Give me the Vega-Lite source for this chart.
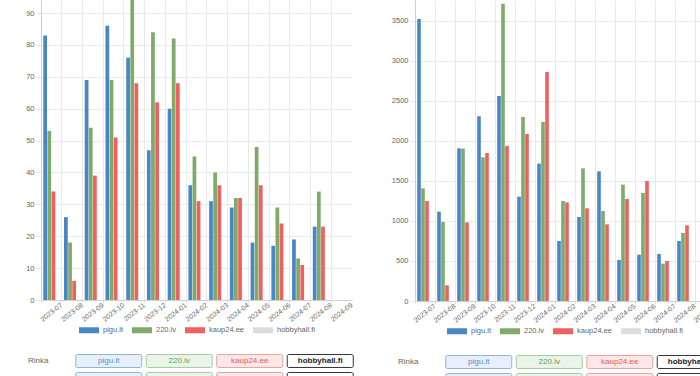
{
  "$schema": "https://vega.github.io/schema/vega-lite/v6.json",
  "background": "white",
  "padding": {"left": 3, "top": 0, "right": 0, "bottom": 0},
  "datasets": {
    "left": [
      {"month": "2023-07", "site": "pigu.lt", "value": 83}, {"month": "2023-07", "site": "220.lv", "value": 53}, {"month": "2023-07", "site": "kaup24.ee", "value": 34},
      {"month": "2023-08", "site": "pigu.lt", "value": 26}, {"month": "2023-08", "site": "220.lv", "value": 18}, {"month": "2023-08", "site": "kaup24.ee", "value": 6},
      {"month": "2023-09", "site": "pigu.lt", "value": 69}, {"month": "2023-09", "site": "220.lv", "value": 54}, {"month": "2023-09", "site": "kaup24.ee", "value": 39},
      {"month": "2023-10", "site": "pigu.lt", "value": 86}, {"month": "2023-10", "site": "220.lv", "value": 69}, {"month": "2023-10", "site": "kaup24.ee", "value": 51},
      {"month": "2023-11", "site": "pigu.lt", "value": 76}, {"month": "2023-11", "site": "220.lv", "value": 96}, {"month": "2023-11", "site": "kaup24.ee", "value": 68},
      {"month": "2023-12", "site": "pigu.lt", "value": 47}, {"month": "2023-12", "site": "220.lv", "value": 84}, {"month": "2023-12", "site": "kaup24.ee", "value": 62},
      {"month": "2024-01", "site": "pigu.lt", "value": 60}, {"month": "2024-01", "site": "220.lv", "value": 82}, {"month": "2024-01", "site": "kaup24.ee", "value": 68},
      {"month": "2024-02", "site": "pigu.lt", "value": 36}, {"month": "2024-02", "site": "220.lv", "value": 45}, {"month": "2024-02", "site": "kaup24.ee", "value": 31},
      {"month": "2024-03", "site": "pigu.lt", "value": 31}, {"month": "2024-03", "site": "220.lv", "value": 40}, {"month": "2024-03", "site": "kaup24.ee", "value": 36},
      {"month": "2024-04", "site": "pigu.lt", "value": 29}, {"month": "2024-04", "site": "220.lv", "value": 32}, {"month": "2024-04", "site": "kaup24.ee", "value": 32},
      {"month": "2024-05", "site": "pigu.lt", "value": 18}, {"month": "2024-05", "site": "220.lv", "value": 48}, {"month": "2024-05", "site": "kaup24.ee", "value": 36},
      {"month": "2024-06", "site": "pigu.lt", "value": 17}, {"month": "2024-06", "site": "220.lv", "value": 29}, {"month": "2024-06", "site": "kaup24.ee", "value": 24},
      {"month": "2024-07", "site": "pigu.lt", "value": 19}, {"month": "2024-07", "site": "220.lv", "value": 13}, {"month": "2024-07", "site": "kaup24.ee", "value": 11},
      {"month": "2024-08", "site": "pigu.lt", "value": 23}, {"month": "2024-08", "site": "220.lv", "value": 34}, {"month": "2024-08", "site": "kaup24.ee", "value": 23}
    ],
    "right": [
      {"month": "2023-07", "site": "pigu.lt", "value": 3525}, {"month": "2023-07", "site": "220.lv", "value": 1408}, {"month": "2023-07", "site": "kaup24.ee", "value": 1250},
      {"month": "2023-08", "site": "pigu.lt", "value": 1117}, {"month": "2023-08", "site": "220.lv", "value": 987}, {"month": "2023-08", "site": "kaup24.ee", "value": 196},
      {"month": "2023-09", "site": "pigu.lt", "value": 1908}, {"month": "2023-09", "site": "220.lv", "value": 1905}, {"month": "2023-09", "site": "kaup24.ee", "value": 983},
      {"month": "2023-10", "site": "pigu.lt", "value": 2308}, {"month": "2023-10", "site": "220.lv", "value": 1796}, {"month": "2023-10", "site": "kaup24.ee", "value": 1850},
      {"month": "2023-11", "site": "pigu.lt", "value": 2562}, {"month": "2023-11", "site": "220.lv", "value": 3716}, {"month": "2023-11", "site": "kaup24.ee", "value": 1937},
      {"month": "2023-12", "site": "pigu.lt", "value": 1304}, {"month": "2023-12", "site": "220.lv", "value": 2300}, {"month": "2023-12", "site": "kaup24.ee", "value": 2087},
      {"month": "2024-01", "site": "pigu.lt", "value": 1717}, {"month": "2024-01", "site": "220.lv", "value": 2237}, {"month": "2024-01", "site": "kaup24.ee", "value": 2862},
      {"month": "2024-02", "site": "pigu.lt", "value": 750}, {"month": "2024-02", "site": "220.lv", "value": 1250}, {"month": "2024-02", "site": "kaup24.ee", "value": 1233},
      {"month": "2024-03", "site": "pigu.lt", "value": 1050}, {"month": "2024-03", "site": "220.lv", "value": 1658}, {"month": "2024-03", "site": "kaup24.ee", "value": 1158},
      {"month": "2024-04", "site": "pigu.lt", "value": 1621}, {"month": "2024-04", "site": "220.lv", "value": 1125}, {"month": "2024-04", "site": "kaup24.ee", "value": 958},
      {"month": "2024-05", "site": "pigu.lt", "value": 512}, {"month": "2024-05", "site": "220.lv", "value": 1454}, {"month": "2024-05", "site": "kaup24.ee", "value": 1275},
      {"month": "2024-06", "site": "pigu.lt", "value": 579}, {"month": "2024-06", "site": "220.lv", "value": 1350}, {"month": "2024-06", "site": "kaup24.ee", "value": 1500},
      {"month": "2024-07", "site": "pigu.lt", "value": 587}, {"month": "2024-07", "site": "220.lv", "value": 467}, {"month": "2024-07", "site": "kaup24.ee", "value": 500},
      {"month": "2024-08", "site": "pigu.lt", "value": 750}, {"month": "2024-08", "site": "220.lv", "value": 850}, {"month": "2024-08", "site": "kaup24.ee", "value": 946}
    ],
    "buttons": [
      {"row": "r1", "col": "Rinka"},
      {"row": "r1", "col": "pigu.lt"}, {"row": "r1", "col": "220.lv"}, {"row": "r1", "col": "kaup24.ee"}, {"row": "r1", "col": "hobbyhall.fi"},
      {"row": "r2", "col": "pigu.lt"}, {"row": "r2", "col": "220.lv"}, {"row": "r2", "col": "kaup24.ee"}, {"row": "r2", "col": "hobbyhall.fi"}
    ]
  },
  "spacing": 19,
  "resolve": {
    "scale": {"x": "independent", "y": "independent", "xOffset": "independent", "color": "independent", "fill": "independent", "stroke": "independent"},
    "legend": {"color": "independent"}
  },
  "hconcat": [
    {
      "spacing": 18,
      "resolve": {
        "scale": {"x": "independent", "y": "independent", "color": "independent"},
        "legend": {"color": "independent"}
      },
      "vconcat": [
        {
          "width": 311,
          "height": 300,
          "data": {"name": "left"},
          "mark": {"type": "bar", "clip": true},
          "encoding": {
            "x": {
              "field": "month", "type": "ordinal",
              "scale": {"domain": ["2023-07","2023-08","2023-09","2023-10","2023-11","2023-12","2024-01","2024-02","2024-03","2024-04","2024-05","2024-06","2024-07","2024-08","2024-09"], "paddingInner": 0, "paddingOuter": 0},
              "axis": {"title": null, "bandPosition": 0, "labelOffset": 10.37, "labelAngle": -38, "labelAlign": "right", "labelBaseline": "middle", "grid": true, "tickSize": 3, "labelPadding": 1, "labelFontSize": 7}
            },
            "xOffset": {"field": "site", "scale": {"domain": ["pigu.lt", "220.lv", "kaup24.ee", "hobbyhall.fi"], "paddingInner": 0.1, "paddingOuter": 0.55}},
            "y": {
              "field": "value", "type": "quantitative",
              "scale": {"domain": [0, 94.1], "nice": false, "zero": true},
              "axis": {"title": null, "values": [0, 10, 20, 30, 40, 50, 60, 70, 80, 90], "minExtent": 38, "maxExtent": 38}
            },
            "color": {
              "field": "site", "type": "nominal",
              "scale": {"domain": ["pigu.lt", "220.lv", "kaup24.ee", "hobbyhall.fi"], "range": ["#4a86c6", "#7eab69", "#ef605e", "#dcdcdc"]},
              "legend": {"orient": "bottom", "direction": "horizontal", "title": null, "offset": -3}
            }
          }
        },
        {
          "width": 311,
          "height": 36,
          "data": {"name": "buttons"},
          "encoding": {
            "x": {"field": "col", "type": "nominal", "scale": {"domain": ["Rinka", "pigu.lt", "220.lv", "kaup24.ee", "hobbyhall.fi"], "range": [-38, 314.5], "paddingInner": 0.064, "paddingOuter": 0.032}, "axis": null},
            "y": {"field": "row", "type": "nominal", "scale": {"domain": ["r1", "r2"], "paddingInner": 0.28, "paddingOuter": 0.14}, "axis": null}
          },
          "layer": [
            {
              "transform": [{"filter": "datum.col !== 'Rinka'"}],
              "mark": {"type": "rect", "cornerRadius": 1.5, "strokeWidth": 1},
              "encoding": {
                "fill": {"field": "col", "type": "nominal", "scale": {"domain": ["pigu.lt", "220.lv", "kaup24.ee", "hobbyhall.fi"], "range": ["#e7f0fa", "#e9f5e8", "#fde7e7", "#ffffff"]}, "legend": null},
                "stroke": {"field": "col", "type": "nominal", "scale": {"domain": ["pigu.lt", "220.lv", "kaup24.ee", "hobbyhall.fi"], "range": ["#93b3d3", "#a5cc9f", "#eaa2a2", "#333333"]}, "legend": null}
              }
            },
            {
              "transform": [{"filter": "datum.row === 'r1' && datum.col !== 'hobbyhall.fi'"}],
              "mark": {"type": "text", "fontSize": 8, "font": "Liberation Sans"},
              "encoding": {
                "text": {"field": "col"},
                "color": {"field": "col", "type": "nominal", "scale": {"domain": ["Rinka", "pigu.lt", "220.lv", "kaup24.ee"], "range": ["#666666", "#5b8dc0", "#5e9a52", "#e05a5a"]}, "legend": null}
              }
            },
            {
              "transform": [{"filter": "datum.row === 'r1' && datum.col === 'hobbyhall.fi'"}],
              "mark": {"type": "text", "fontSize": 8, "font": "Liberation Sans", "fontWeight": "bold", "color": "#222222"},
              "encoding": {"text": {"field": "col"}}
            }
          ]
        }
      ]
    },
    {
      "spacing": 18,
      "resolve": {
        "scale": {"x": "independent", "y": "independent", "color": "independent"},
        "legend": {"color": "independent"}
      },
      "vconcat": [
        {
          "width": 300,
          "height": 301,
          "data": {"name": "right"},
          "mark": {"type": "bar", "clip": true},
          "encoding": {
            "x": {
              "field": "month", "type": "ordinal",
              "scale": {"domain": ["2023-07","2023-08","2023-09","2023-10","2023-11","2023-12","2024-01","2024-02","2024-03","2024-04","2024-05","2024-06","2024-07","2024-08","2024-09"], "paddingInner": 0, "paddingOuter": 0},
              "axis": {"title": null, "bandPosition": 0, "labelOffset": 10, "labelAngle": -38, "labelAlign": "right", "labelBaseline": "middle", "grid": true, "tickSize": 3, "labelPadding": 1, "labelFontSize": 7}
            },
            "xOffset": {"field": "site", "scale": {"domain": ["pigu.lt", "220.lv", "kaup24.ee", "hobbyhall.fi"], "paddingInner": 0.1, "paddingOuter": 0.55}},
            "y": {
              "field": "value", "type": "quantitative",
              "scale": {"domain": [0, 3762], "nice": false, "zero": true},
              "axis": {"title": null, "format": "d", "values": [0, 500, 1000, 1500, 2000, 2500, 3000, 3500], "minExtent": 42, "maxExtent": 42}
            },
            "color": {
              "field": "site", "type": "nominal",
              "scale": {"domain": ["pigu.lt", "220.lv", "kaup24.ee", "hobbyhall.fi"], "range": ["#4a86c6", "#7eab69", "#ef605e", "#dcdcdc"]},
              "legend": {"orient": "bottom", "direction": "horizontal", "title": null, "offset": -3}
            }
          }
        },
        {
          "width": 300,
          "height": 36,
          "data": {"name": "buttons"},
          "encoding": {
            "x": {"field": "col", "type": "nominal", "scale": {"domain": ["Rinka", "pigu.lt", "220.lv", "kaup24.ee", "hobbyhall.fi"], "range": [-42, 310.5], "paddingInner": 0.064, "paddingOuter": 0.032}, "axis": null},
            "y": {"field": "row", "type": "nominal", "scale": {"domain": ["r1", "r2"], "paddingInner": 0.28, "paddingOuter": 0.14}, "axis": null}
          },
          "layer": [
            {
              "transform": [{"filter": "datum.col !== 'Rinka'"}],
              "mark": {"type": "rect", "cornerRadius": 1.5, "strokeWidth": 1},
              "encoding": {
                "fill": {"field": "col", "type": "nominal", "scale": {"domain": ["pigu.lt", "220.lv", "kaup24.ee", "hobbyhall.fi"], "range": ["#e7f0fa", "#e9f5e8", "#fde7e7", "#ffffff"]}, "legend": null},
                "stroke": {"field": "col", "type": "nominal", "scale": {"domain": ["pigu.lt", "220.lv", "kaup24.ee", "hobbyhall.fi"], "range": ["#93b3d3", "#a5cc9f", "#eaa2a2", "#333333"]}, "legend": null}
              }
            },
            {
              "transform": [{"filter": "datum.row === 'r1' && datum.col !== 'hobbyhall.fi'"}],
              "mark": {"type": "text", "fontSize": 8, "font": "Liberation Sans"},
              "encoding": {
                "text": {"field": "col"},
                "color": {"field": "col", "type": "nominal", "scale": {"domain": ["Rinka", "pigu.lt", "220.lv", "kaup24.ee"], "range": ["#666666", "#5b8dc0", "#5e9a52", "#e05a5a"]}, "legend": null}
              }
            },
            {
              "transform": [{"filter": "datum.row === 'r1' && datum.col === 'hobbyhall.fi'"}],
              "mark": {"type": "text", "fontSize": 8, "font": "Liberation Sans", "fontWeight": "bold", "color": "#222222"},
              "encoding": {"text": {"field": "col"}}
            }
          ]
        }
      ]
    }
  ],
  "config": {
    "view": {"stroke": null},
    "font": "Liberation Sans",
    "axis": {
      "labelFont": "Liberation Sans", "labelFontSize": 7.5, "labelColor": "#666666",
      "domainColor": "#d0d0d0", "tickColor": "#e4e4e4", "tickSize": 5, "gridColor": "#e9e9e9",
      "labelPadding": 2
    },
    "legend": {
      "labelFont": "Liberation Sans", "labelFontSize": 7.5, "labelColor": "#666666",
      "symbolType": "M-1,-0.3H1V0.3H-1Z", "symbolSize": 400, "symbolStrokeWidth": 0,
      "columnPadding": 8, "labelOffset": 4,
      "layout": {"bottom": {"anchor": "middle"}}
    }
  }
}
